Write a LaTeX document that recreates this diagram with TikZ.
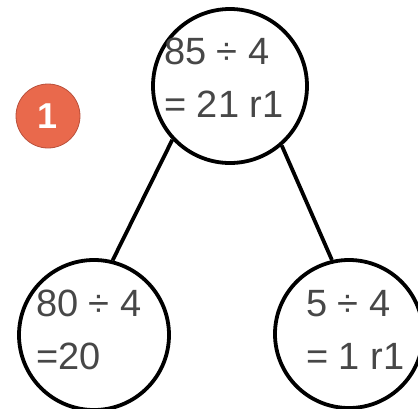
\documentclass[tikz,border=0pt]{standalone}
\usepackage{fontspec}
\setmainfont{Liberation Sans}
\usepackage{xcolor}
\usetikzlibrary{positioning}
\definecolor{badgered}{HTML}{E9694C}
\definecolor{badgeedge}{HTML}{B9503B}
\begin{document}
\begin{tikzpicture}[x=1pt,y=-1pt,
  bubble/.style={draw,circle,line width=3.8pt,inner sep=0pt},
  numtext/.style={align=left,inner sep=0pt,anchor=west,text=black!72,
    font=\fontsize{38}{53}\selectfont},
  branch/.style={line width=3.8pt},
  badge/.style={circle,fill=badgered,draw=badgeedge,line width=0.8pt,
    minimum size=64pt,inner sep=0pt,text=white,
    font=\fontsize{36}{36}\selectfont\bfseries}]
  \useasboundingbox (0,0) rectangle (418,408);
  \node[bubble,minimum size=154pt] (whole) at (230,86) {};
  \node[bubble,minimum size=150pt] (tens) at (94,335) {};
  \node[bubble,minimum size=148pt] (ones) at (349,334) {};
  \node[numtext] (wholetext) at (164,78) {85 ÷ 4\\= 21 r1};
  \node[numtext] (tenstext) at (36,330) {80 ÷ 4\\=20};
  \node[numtext] (onestext) at (306,330) {5 ÷ 4\\= 1 r1};
  \draw[branch] (whole.223) -- (tens.76);
  \draw[branch] (whole.311) -- (ones.103);
  \node[badge] (stepone) at (48,116) {1};
\end{tikzpicture}
\end{document}
